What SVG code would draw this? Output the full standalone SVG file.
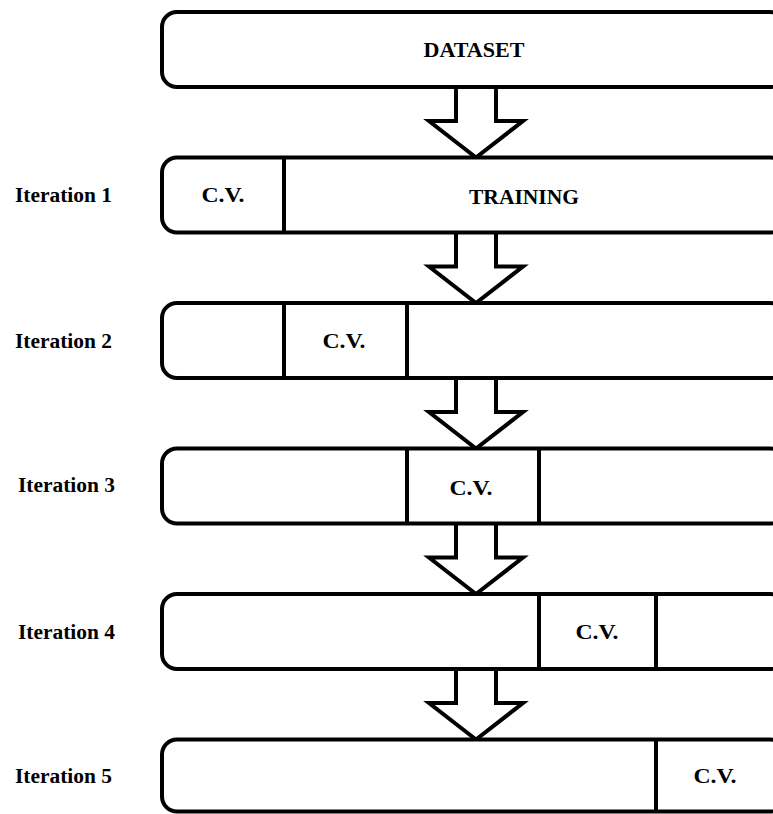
<svg xmlns="http://www.w3.org/2000/svg" width="773" height="814" viewBox="0 0 773 814">
<style>
.box{fill:#fff;stroke:#000;stroke-width:4}
.div{stroke:#000;stroke-width:4}
.arr{fill:#fff;stroke:#000;stroke-width:4;stroke-linejoin:miter}
text{font-family:"Liberation Serif","Times New Roman",serif;font-weight:bold;font-size:20px;fill:#000}
.c{text-anchor:middle}
</style>
<rect width="773" height="814" fill="#fff"/>
<g id="connectors">
<path class="arr" d="M456,87 V121 H429 L476,157.5 L523,121 H496 V87"/>
<path class="arr" d="M456,232.5 V266.5 H429 L476,303 L523,266.5 H496 V232.5"/>
<path class="arr" d="M456,378 V412 H429 L476,448.5 L523,412 H496 V378"/>
<path class="arr" d="M456,523.5 V557.5 H429 L476,594 L523,557.5 H496 V523.5"/>
<path class="arr" d="M456,669 V703 H429 L476,739.5 L523,703 H496 V669"/>
</g>
<g id="dataset">
<rect class="box" x="162" y="12" width="623" height="75" rx="15"/>
<text class="c" x="474" y="57" textLength="101" lengthAdjust="spacingAndGlyphs">DATASET</text>
</g>
<g id="iteration1">
<text x="15" y="202" textLength="97" lengthAdjust="spacingAndGlyphs">Iteration 1</text>
<rect class="box" x="162" y="157.5" width="623" height="75" rx="15"/>
<line class="div" x1="284" y1="157.5" x2="284" y2="232.5"/>
<text class="c" x="223" y="202" textLength="43" lengthAdjust="spacingAndGlyphs">C.V.</text>
<text class="c" x="524" y="204" textLength="110" lengthAdjust="spacingAndGlyphs">TRAINING</text>
</g>
<g id="iteration2">
<text x="15" y="348" textLength="97" lengthAdjust="spacingAndGlyphs">Iteration 2</text>
<rect class="box" x="162" y="303" width="623" height="75" rx="15"/>
<line class="div" x1="284" y1="303" x2="284" y2="378"/>
<line class="div" x1="407" y1="303" x2="407" y2="378"/>
<text class="c" x="344" y="348" textLength="43" lengthAdjust="spacingAndGlyphs">C.V.</text>
</g>
<g id="iteration3">
<text x="18" y="492" textLength="97" lengthAdjust="spacingAndGlyphs">Iteration 3</text>
<rect class="box" x="162" y="448.5" width="623" height="75" rx="15"/>
<line class="div" x1="407" y1="448.5" x2="407" y2="523.5"/>
<line class="div" x1="539" y1="448.5" x2="539" y2="523.5"/>
<text class="c" x="471" y="495" textLength="43" lengthAdjust="spacingAndGlyphs">C.V.</text>
</g>
<g id="iteration4">
<text x="18" y="639" textLength="97" lengthAdjust="spacingAndGlyphs">Iteration 4</text>
<rect class="box" x="162" y="594" width="623" height="75" rx="15"/>
<line class="div" x1="539" y1="594" x2="539" y2="669"/>
<line class="div" x1="656" y1="594" x2="656" y2="669"/>
<text class="c" x="597" y="639" textLength="43" lengthAdjust="spacingAndGlyphs">C.V.</text>
</g>
<g id="iteration5">
<text x="15" y="783" textLength="97" lengthAdjust="spacingAndGlyphs">Iteration 5</text>
<rect class="box" x="162" y="739.5" width="623" height="72" rx="15"/>
<line class="div" x1="656" y1="739.5" x2="656" y2="811.5"/>
<text class="c" x="715" y="783" textLength="43" lengthAdjust="spacingAndGlyphs">C.V.</text>
</g>
</svg>
